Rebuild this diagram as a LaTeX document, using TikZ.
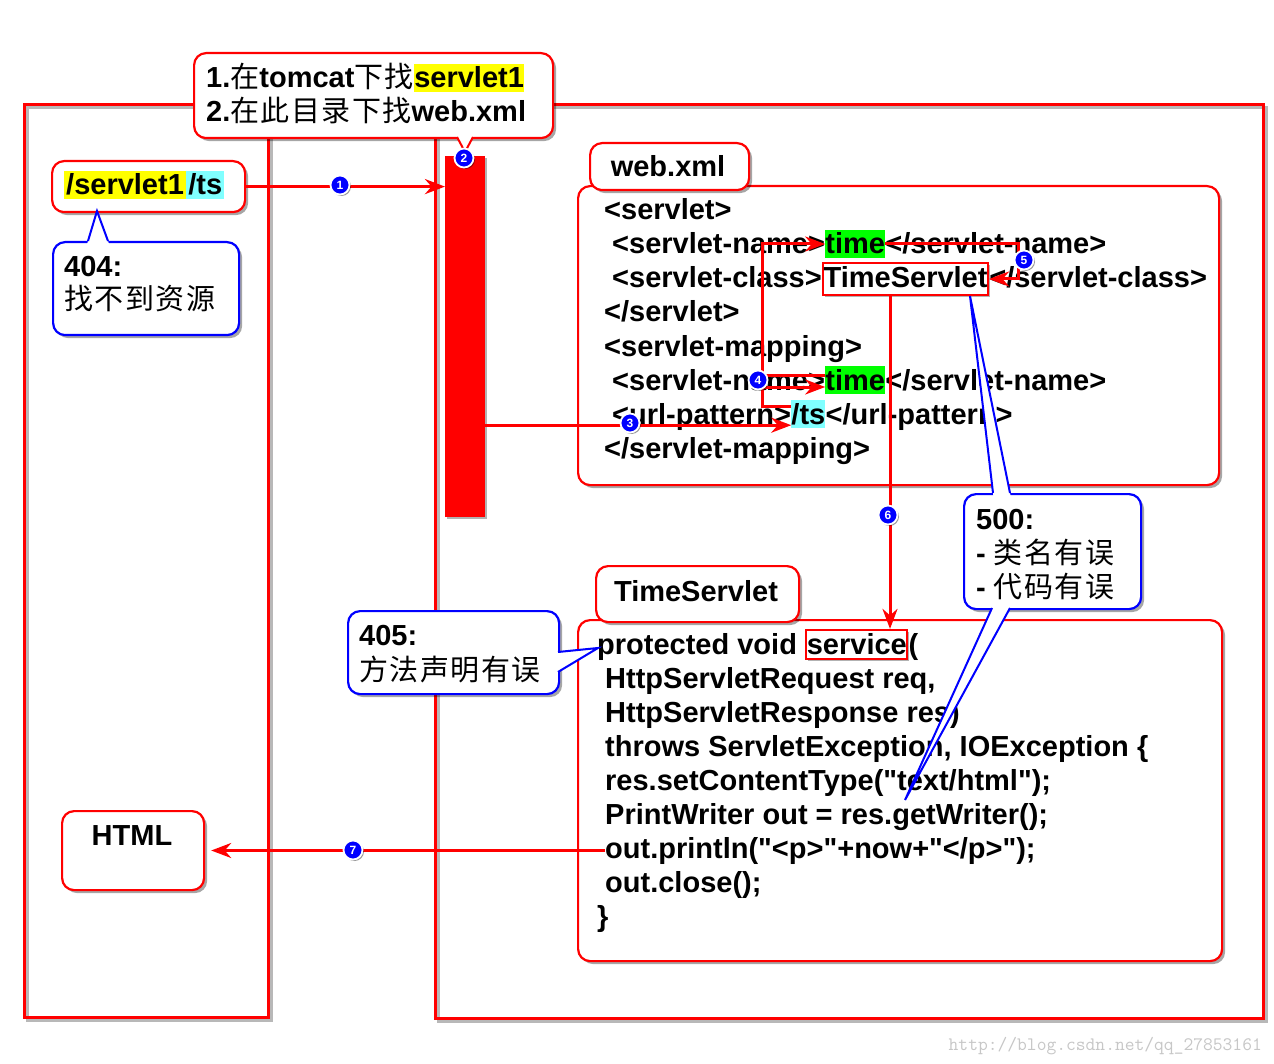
\documentclass[tikz,border=0pt]{standalone}
\usepackage{fontspec}
\setmainfont{Liberation Sans}[Ligatures=TeXOff]
\newfontfamily\cjkfont{Noto Sans CJK SC}[LetterSpace=5]
\usetikzlibrary{arrows.meta,calc,shadows}
\definecolor{hlyellow}{RGB}{255,255,0}
\definecolor{hlgreen}{RGB}{0,255,0}
\definecolor{hlcyan}{RGB}{128,255,255}
\definecolor{pured}{RGB}{255,0,0}
\definecolor{pureblue}{RGB}{0,0,255}
\newcommand\zht[1]{{\cjkfont\mdseries #1}}
\newcommand\calltail[4]{%
  \fill[white] ($(#2)!-6pt!(#3)$) -- (#3) -- ($(#4)!-6pt!(#3)$) -- cycle;
  \draw[draw=#1, line width=2pt] (#2) -- (#3) -- (#4);
}
\tikzset{
  bigframe/.style={draw=pured, line width=3pt},
  frameshadow/.style={draw=black!28, line width=3pt},
  rbox/.style={draw=pured, line width=2.2pt, fill=white, rounded corners=12pt, inner sep=0pt, anchor=north west,
    drop shadow={shadow xshift=3pt, shadow yshift=-3pt, opacity=0.35, fill=black}},
  bbox/.style={rbox, draw=pureblue},
  codetxt/.style={inner sep=0pt, anchor=base west, font=\bfseries\fontsize{29}{34}\selectfont},
  hl/.style={codetxt, fill=#1, text height=24pt, text depth=4pt},
  redframe/.style={codetxt, draw=pured, line width=2.2pt, fill=white, inner xsep=0.5pt, inner ysep=0pt,
    text height=25pt, text depth=7pt,
    drop shadow={shadow xshift=2pt, shadow yshift=-2pt, opacity=0.3, fill=black}},
  arr/.style={draw=pured, line width=3pt, -{Stealth[length=20pt,width=15pt]}},
  redline/.style={draw=pured, line width=3pt},
  stepnum/.style={circle, fill=pureblue, draw=white, line width=1.8pt, minimum size=19pt, inner sep=0pt,
    text=white, font=\bfseries\fontsize{12}{12}\selectfont,
    drop shadow={shadow xshift=1.5pt, shadow yshift=-1.5pt, opacity=0.4, fill=black}},
}
\begin{document}
\begin{tikzpicture}[x=1pt,y=-1pt]
\useasboundingbox (0,0) rectangle (1274,1064);
\fill[white] (0,0) rectangle (1274,1064);

% big frames
\draw[frameshadow] (27,108) rectangle (271,1020);
\draw[frameshadow] (438,108) rectangle (1266,1021);
\draw[bigframe] (24,105) rectangle (268,1017);
\draw[bigframe] (435,105) rectangle (1263,1018);

% red bar
\node[fill=pured, inner sep=0pt, minimum width=40pt, minimum height=361pt, anchor=north west,
  drop shadow={shadow xshift=2pt, shadow yshift=-2pt, opacity=0.3, fill=black}] (bar) at (445,156) {};

% boxes
\node[rbox, minimum width=193pt, minimum height=51pt] (urlbox) at (51,160) {};
\node[rbox, minimum width=142pt, minimum height=79pt] (htmlbox) at (61,810) {};
\node[rbox, minimum width=641pt, minimum height=299pt] (wxbox) at (577,185) {};
\node[rbox, minimum width=159pt, minimum height=47pt] (wxlabel) at (589,142) {};
\node[rbox, minimum width=644pt, minimum height=341pt] (codebox) at (577,619) {};
\node[rbox, minimum width=203pt, minimum height=56pt] (tslabel) at (595,565) {};

% url text
\node[hl=hlyellow, inner xsep=2pt] (urlA) at (64,195) {/servlet1};
\node[hl=hlcyan, inner xsep=2pt] (urlB) at (urlA.base east) {/ts};

% labels
\node[codetxt, anchor=base] (wxtitle) at (668,177) {web.xml};
\node[codetxt, anchor=base] (tstitle) at (696,601) {TimeServlet};
\node[codetxt, anchor=base] (htmltxt) at (132,845) {HTML};

% web.xml lines
\node[codetxt] (w1) at (604,220) {<servlet>};
\node[codetxt] (w2a) at (612,254) {<servlet-name>};
\node[hl=hlgreen] (time1) at (w2a.base east) {time};
\node[codetxt] (w2c) at (time1.base east) {</servlet-name>};
\node[codetxt] (w3a) at (612,288) {<servlet-class>};
\node[redframe] (tsbox) at (w3a.base east) {TimeServlet};
\node[codetxt] (w3c) at (tsbox.base east) {</servlet-class>};
\node[codetxt] (w4) at (604,322) {</servlet>};
\node[codetxt] (w5) at (604,356) {<servlet-mapping>};
\node[codetxt] (w6a) at (612,390) {<servlet-name>};
\node[hl=hlgreen] (time2) at (w6a.base east) {time};
\node[codetxt] (w6c) at (time2.base east) {</servlet-name>};
\node[codetxt] (w7a) at (612,424) {<url-pattern>};
\node[hl=hlcyan] (tsurl) at (w7a.base east) {/ts};
\node[codetxt] (w7c) at (tsurl.base east) {</url-pattern>};
\node[codetxt] (w8) at (604,458) {</servlet-mapping>};

% code lines
\node[codetxt] (k1a) at (597,654) {protected void};
\node[redframe, text height=24pt, text depth=5pt] (service) at ($(k1a.base east)+(8.06,0)$) {service};
\node[codetxt] (k1c) at (service.base east) {(};
\node[codetxt] (k2) at (605,688) {HttpServletRequest req,};
\node[codetxt] (k3) at (605,722) {HttpServletResponse res)};
\node[codetxt] (k4) at (605,756) {throws ServletException, IOException \{};
\node[codetxt] (k5) at (605,790) {res.setContentType("text/html");};
\node[codetxt] (k6) at (605,824) {PrintWriter out = res.getWriter();};
\node[codetxt] (k7) at (605,858) {out.println("<p>"+now+"</p>");};
\node[codetxt] (k8) at (605,892) {out.close();};
\node[codetxt] (k9) at (597,926) {\}};

% connectors
\coordinate (vx) at (762,0);
\coordinate (vx5) at (1018,0);
\draw[arr] (urlbox.east) -- (bar.west |- urlbox.east);
\coordinate (tsin) at ($(tsurl.south west)+(0,-3)$);
\draw[arr] (bar.east |- tsin) -- (tsin);
\coordinate (p4a) at ($(tsurl.north west)+(0,7)$);
\draw[arr] (p4a) -- (p4a -| vx) -- (vx |- time1.west) -- (time1.west);
\draw[arr] ($(vx |- time2.west)+(0,7)$) -- ($(time2.west)+(0,7)$);
\draw[redline] ($(vx |- time2.west)+(0,-4)$) -- ($(time2.west)+(0,-4)$);
\draw[arr] (time1.east) -- (time1.east -| vx5) -- (vx5 |- tsbox.east) -- (tsbox.east);
\coordinate (c6) at ($(tsbox.south west)+(68,0)$);
\draw[arr] (c6) -- (c6 |- service.north);
\draw[arr] (k7.west) -- ($(htmlbox.east |- k7.west)+(6,0)$);

% top callout
\node[rbox, minimum width=359pt, minimum height=85pt] (topcall) at (193,52) {};
\calltail{pured}{457,137}{465,152}{473,137}
\node[codetxt] (tc1) at (206,88) {1.\zht{在}tomcat\zht{下找}};
\node[hl=hlyellow] (tc1b) at (tc1.base east) {servlet1\hspace{10pt}};
\node[codetxt] (tc2) at (206,122) {2.\zht{在此目录下找}web.xml};

% 404 callout
\node[bbox, minimum width=186pt, minimum height=93pt] (call404) at (52,241) {};
\calltail{pureblue}{88,241}{97,211}{108,241}
\node[codetxt] (e404a) at (64,277) {404:};
\node[codetxt] (e404b) at (64,310) {\zht{找不到资源}};

% 405 callout
\node[bbox, minimum width=211pt, minimum height=83pt] (call405) at (347,610) {};
\calltail{pureblue}{558,652}{598,648}{558,672}
\node[codetxt] (e405a) at (359,645) {405:};
\node[codetxt] (e405b) at (359,680) {\zht{方法声明有误}};

% 500 callout
\node[bbox, minimum width=177pt, minimum height=115pt] (call500) at (963,493) {};
\coordinate (ap500a) at ($(tsbox.south west)+(148,0)$);
\calltail{pureblue}{993,493}{ap500a}{1010,493}
\calltail{pureblue}{992,608}{905,800}{1010,608}
\node[codetxt] (e500a) at (976,529) {500:};
\node[codetxt] (e500b) at (976,563) {- \zht{类名有误}};
\node[codetxt] (e500c) at (976,597) {- \zht{代码有误}};

% step numbers
\node[stepnum] (n1) at (340,185) {1};
\node[stepnum] (n2) at (464,158) {2};
\node[stepnum] (n3) at (630,423) {3};
\node[stepnum] (n4) at (758,380) {4};
\node[stepnum] (n5) at (1024,260) {5};
\node[stepnum] (n6) at (888,515) {6};
\node[stepnum] (n7) at (353,850) {7};

% watermark
\node[anchor=base east, inner sep=0pt, text=black!22, font=\ttfamily\fontsize{19}{19}\selectfont] (wm) at (1262,1050) {http://blog.csdn.net/qq\_27853161};
\end{tikzpicture}
\end{document}
